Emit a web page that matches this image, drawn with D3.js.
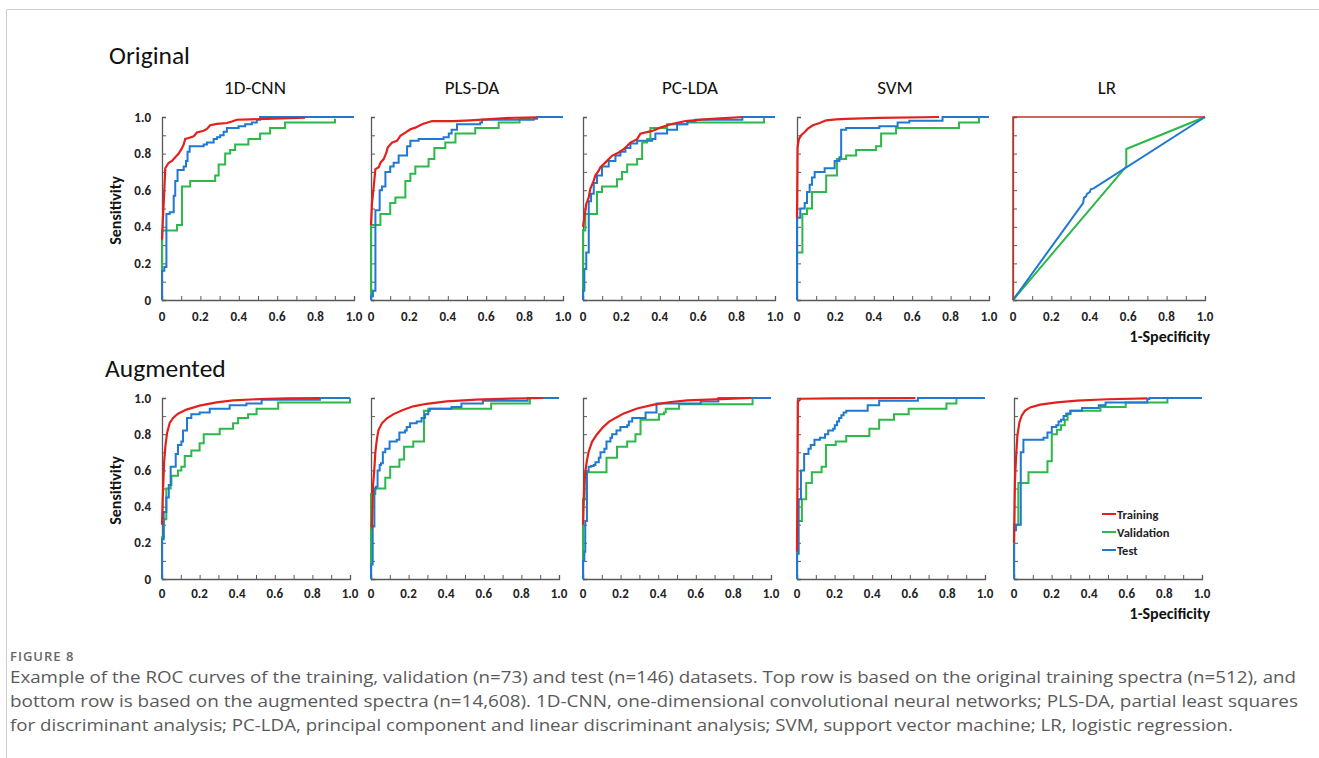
<!DOCTYPE html>
<html><head><meta charset="utf-8">
<script src="https://cdn.jsdelivr.net/npm/d3@7"></script>
<style>body{margin:0;background:#fff;}svg{display:block;}</style>
</head><body>
<svg id="chart" width="1319" height="758"></svg>
<script>
// ---------- data ----------
const methods = ["1D-CNN", "PLS-DA", "PC-LDA", "SVM", "LR"];
const rowTitles = ["Original", "Augmented"];
const seriesNames = ["Training", "Validation", "Test"];
const xTickLabels = ["0", "0.2", "0.4", "0.6", "0.8", "1.0"];
const yTickLabels = ["0", "0.2", "0.4", "0.6", "0.8", "1.0"];
const xAxisTitle = "1-Specificity";
const yAxisTitle = "Sensitivity";

// [1-specificity, sensitivity] pairs
const trainOrig = [
  [[0,0.33],[0.005,0.45],[0.009,0.53],[0.017,0.72],[0.035,0.75],[0.052,0.76],[0.069,0.78],[0.087,0.80],[0.104,0.83],[0.113,0.85],[0.121,0.88],[0.139,0.885],[0.165,0.895],[0.182,0.915],[0.217,0.925],[0.234,0.935],[0.251,0.955],[0.286,0.962],[0.338,0.967],[0.364,0.975],[0.39,0.985],[0.459,0.987],[0.546,0.99],[0.745,0.996]],
  [[0,0.41],[0.005,0.525],[0.014,0.62],[0.023,0.715],[0.04,0.725],[0.049,0.75],[0.066,0.77],[0.08,0.805],[0.087,0.833],[0.109,0.86],[0.135,0.87],[0.153,0.897],[0.179,0.915],[0.205,0.933],[0.231,0.942],[0.266,0.96],[0.318,0.978],[0.43,0.978],[0.517,0.982],[0.639,0.99],[0.743,0.996],[0.865,0.998]],
  [[0,0.40],[0.007,0.45],[0.017,0.525],[0.03,0.56],[0.038,0.607],[0.056,0.652],[0.064,0.68],[0.082,0.707],[0.09,0.725],[0.117,0.752],[0.151,0.788],[0.186,0.806],[0.212,0.824],[0.247,0.86],[0.282,0.879],[0.299,0.909],[0.36,0.924],[0.403,0.942],[0.456,0.96],[0.534,0.978],[0.63,0.987],[0.717,0.993],[0.83,1.0]],
  [[0,0.45],[0.003,0.836],[0.01,0.88],[0.022,0.90],[0.04,0.918],[0.057,0.936],[0.083,0.955],[0.118,0.967],[0.152,0.982],[0.204,0.987],[0.256,0.99],[0.429,0.995],[0.74,1.0]],
  [[0,0],[0,1],[1,1]]
];
const valOrig = [
  [[0,0],[0,0.38],[0.078,0.41],[0.104,0.62],[0.147,0.65],[0.277,0.68],[0.295,0.74],[0.329,0.80],[0.355,0.82],[0.381,0.85],[0.45,0.88],[0.511,0.91],[0.563,0.94],[0.641,0.97],[0.901,0.99]],
  [[0,0],[0,0.41],[0.049,0.47],[0.10,0.53],[0.127,0.56],[0.179,0.65],[0.205,0.69],[0.231,0.73],[0.30,0.77],[0.33,0.83],[0.387,0.86],[0.44,0.91],[0.543,0.94],[0.665,0.97],[0.774,0.99],[0.835,0.99]],
  [[0,0],[0,0.38],[0.012,0.47],[0.073,0.59],[0.099,0.62],[0.177,0.66],[0.203,0.70],[0.23,0.74],[0.282,0.77],[0.308,0.86],[0.334,0.88],[0.351,0.94],[0.438,0.96],[0.543,0.97],[0.943,1.0]],
  [[0,0],[0,0.26],[0.028,0.47],[0.052,0.50],[0.078,0.59],[0.152,0.68],[0.208,0.77],[0.256,0.79],[0.308,0.82],[0.412,0.84],[0.438,0.91],[0.516,0.94],[0.844,0.97],[0.948,1.0]],
  [[0,0],[0.59,0.73],[0.59,0.825],[1,1]]
];
const testOrig = [
  [[0,0],[0,0.16],[0.012,0.18],[0.023,0.47],[0.04,0.48],[0.061,0.57],[0.069,0.65],[0.081,0.71],[0.113,0.73],[0.125,0.76],[0.133,0.81],[0.144,0.84],[0.217,0.85],[0.234,0.86],[0.269,0.88],[0.286,0.89],[0.303,0.90],[0.321,0.92],[0.338,0.94],[0.399,0.95],[0.433,0.96],[0.468,0.97],[0.494,0.985],[0.511,1.0],[1.0,1.0]],
  [[0,0],[0,0.02],[0.01,0.05],[0.023,0.49],[0.045,0.60],[0.057,0.62],[0.075,0.70],[0.10,0.73],[0.118,0.75],[0.144,0.79],[0.188,0.84],[0.205,0.87],[0.248,0.88],[0.378,0.89],[0.405,0.91],[0.42,0.93],[0.448,0.96],[0.569,0.97],[0.578,0.985],[0.847,0.99],[0.865,1.0],[1.0,1.0]],
  [[0,0],[0,0.05],[0.007,0.17],[0.017,0.26],[0.03,0.54],[0.042,0.58],[0.056,0.64],[0.073,0.68],[0.099,0.73],[0.134,0.76],[0.169,0.79],[0.195,0.81],[0.221,0.83],[0.247,0.855],[0.282,0.87],[0.36,0.88],[0.377,0.91],[0.438,0.93],[0.49,0.96],[0.543,0.975],[0.586,0.985],[0.83,1.0],[1.0,1.0]],
  [[0,0],[0,0.45],[0.017,0.50],[0.04,0.53],[0.052,0.59],[0.066,0.63],[0.078,0.67],[0.092,0.70],[0.144,0.72],[0.196,0.76],[0.221,0.78],[0.23,0.93],[0.256,0.94],[0.429,0.95],[0.524,0.97],[0.585,0.98],[0.758,1.0],[1.0,1.0]],
  [[0,0],[0.365,0.53],[0.37,0.56],[0.38,0.565],[0.385,0.58],[0.40,0.59],[0.405,0.605],[0.42,0.61],[1,1]]
];
const trainAug = [
  [[0,0.3],[0.005,0.475],[0.011,0.64],[0.018,0.733],[0.027,0.807],[0.041,0.862],[0.059,0.89],[0.085,0.913],[0.13,0.936],[0.20,0.958],[0.29,0.976],[0.378,0.987],[0.52,0.994],[0.663,0.998],[0.84,1.0]],
  [[0,0.3],[0.005,0.29],[0.011,0.52],[0.018,0.61],[0.023,0.70],[0.032,0.777],[0.04,0.823],[0.058,0.86],[0.085,0.888],[0.12,0.911],[0.173,0.935],[0.225,0.954],[0.296,0.968],[0.401,0.981],[0.56,0.991],[0.736,0.996],[0.915,1.0]],
  [[0,0.3],[0.004,0.44],[0.007,0.517],[0.012,0.59],[0.021,0.656],[0.03,0.703],[0.048,0.758],[0.075,0.80],[0.101,0.833],[0.137,0.868],[0.173,0.89],[0.217,0.915],[0.288,0.942],[0.377,0.963],[0.466,0.978],[0.555,0.987],[0.733,0.994],[0.893,1.0]],
  [[0,0.15],[0.005,0.98],[0.02,0.996],[0.2,0.998],[0.63,1.0]],
  [[0,0.2],[0.005,0.543],[0.011,0.672],[0.018,0.792],[0.029,0.866],[0.041,0.902],[0.059,0.93],[0.086,0.948],[0.139,0.963],[0.228,0.976],[0.335,0.985],[0.496,0.993],[0.709,0.998]]
];
const valAug = [
  [[0,0],[0,0.23],[0.009,0.33],[0.023,0.50],[0.046,0.52],[0.05,0.57],[0.085,0.60],[0.103,0.62],[0.121,0.68],[0.156,0.71],[0.20,0.75],[0.222,0.80],[0.307,0.83],[0.378,0.86],[0.405,0.89],[0.458,0.91],[0.503,0.94],[0.618,0.975],[1.0,1.0]],
  [[0,0],[0,0.47],[0.023,0.50],[0.076,0.56],[0.102,0.62],[0.151,0.66],[0.176,0.73],[0.225,0.76],[0.282,0.93],[0.305,0.94],[0.639,0.97],[0.845,1.0]],
  [[0,0],[0,0.44],[0.018,0.59],[0.125,0.67],[0.181,0.73],[0.235,0.76],[0.279,0.80],[0.306,0.88],[0.404,0.91],[0.431,0.92],[0.44,0.94],[0.511,0.965],[0.902,1.0]],
  [[0,0],[0,0.32],[0.026,0.44],[0.049,0.53],[0.079,0.59],[0.131,0.62],[0.154,0.74],[0.206,0.76],[0.262,0.79],[0.385,0.83],[0.437,0.88],[0.516,0.91],[0.594,0.94],[0.795,0.97],[0.848,1.0]],
  [[0,0],[0,0.30],[0.023,0.53],[0.077,0.59],[0.178,0.65],[0.201,0.80],[0.228,0.825],[0.25,0.85],[0.27,0.88],[0.285,0.91],[0.30,0.93],[0.46,0.95],[0.594,0.975],[0.816,1.0]]
];
const testAug = [
  [[0,0],[0,0.22],[0.009,0.37],[0.023,0.45],[0.036,0.52],[0.046,0.62],[0.073,0.69],[0.085,0.74],[0.103,0.76],[0.112,0.82],[0.133,0.89],[0.156,0.91],[0.20,0.92],[0.254,0.94],[0.36,0.96],[0.449,0.97],[0.53,0.99],[0.84,1.0],[1.0,1.0]],
  [[0,0],[0,0.08],[0.009,0.29],[0.018,0.50],[0.026,0.51],[0.035,0.60],[0.046,0.63],[0.053,0.64],[0.063,0.70],[0.076,0.72],[0.099,0.76],[0.137,0.77],[0.151,0.81],[0.181,0.82],[0.19,0.84],[0.208,0.86],[0.243,0.87],[0.269,0.89],[0.287,0.91],[0.305,0.93],[0.313,0.94],[0.428,0.95],[0.481,0.97],[0.595,0.985],[0.833,1.0],[1.0,1.0]],
  [[0,0],[0,0.1],[0.007,0.15],[0.012,0.32],[0.021,0.595],[0.03,0.62],[0.043,0.625],[0.057,0.63],[0.066,0.645],[0.084,0.67],[0.093,0.70],[0.114,0.72],[0.125,0.76],[0.146,0.78],[0.155,0.80],[0.178,0.82],[0.199,0.84],[0.235,0.85],[0.244,0.87],[0.262,0.89],[0.333,0.92],[0.391,0.97],[0.626,0.98],[0.72,1.0],[1.0,1.0]],
  [[0,0],[0,0.14],[0.009,0.44],[0.021,0.60],[0.038,0.69],[0.061,0.72],[0.073,0.74],[0.093,0.77],[0.122,0.78],[0.149,0.80],[0.166,0.82],[0.192,0.83],[0.201,0.85],[0.213,0.87],[0.224,0.89],[0.236,0.905],[0.248,0.92],[0.262,0.93],[0.376,0.96],[0.437,0.985],[0.643,1.0],[1.0,1.0]],
  [[0,0],[0,0.27],[0.011,0.30],[0.036,0.70],[0.05,0.77],[0.157,0.78],[0.178,0.81],[0.201,0.84],[0.225,0.85],[0.237,0.87],[0.25,0.88],[0.264,0.90],[0.278,0.915],[0.30,0.93],[0.362,0.945],[0.451,0.96],[0.487,0.975],[0.709,0.995],[0.72,1.0],[1.0,1.0]]
];

const captionHead = "FIGURE 8";
const captionLines = [
  "Example of the ROC curves of the training, validation (n=73) and test (n=146) datasets. Top row is based on the original training spectra (n=512), and",
  "bottom row is based on the augmented spectra (n=14,608). 1D-CNN, one-dimensional convolutional neural networks; PLS-DA, partial least squares",
  "for discriminant analysis; PC-LDA, principal component and linear discriminant analysis; SVM, support vector machine; LR, logistic regression."
];

// ---------- layout ----------
const colors = {Training: "#e3211c", Validation: "#2cb84a", Test: "#1f78d1"};
const rowLayout = [
  {top: 117, bottom: 300, xs: [162, 371, 583, 797, 1013], w: 192, titleY: 64, titleX: 109, labelY: 321, specY: 342},
  {top: 398, bottom: 579, xs: [162, 371, 583, 797, 1014], w: 188, titleY: 377, titleX: 105, labelY: 598, specY: 619}
];
const methodTitleOffset = [-3, 5, 11, 2, -2];
const calibri = "Carlito, Lato, 'Open Sans', sans-serif";

const svg = d3.select("#chart");
// frame
svg.append("path").attr("d", "M6.5,758 V9.5 H1319").attr("fill", "none").attr("stroke", "#d0d0d0").attr("stroke-width", 1);

const dataRows = [[trainOrig, valOrig, testOrig], [trainAug, valAug, testAug]];

rowLayout.forEach((L, r) => {
  svg.append("text").attr("x", L.titleX).attr("y", L.titleY)
    .attr("font-family", calibri).attr("font-size", 25.5).attr("fill", "#111").text(rowTitles[r]);

  methods.forEach((m, p) => {
    const x = d3.scaleLinear().domain([0, 1]).range([L.xs[p], L.xs[p] + L.w]);
    const y = d3.scaleLinear().domain([0, 1]).range([L.bottom, L.top]);
    const g = svg.append("g");

    if (r === 0) {
      g.append("text").attr("x", L.xs[p] + L.w / 2 + methodTitleOffset[p]).attr("y", 94)
        .attr("text-anchor", "middle").attr("font-family", calibri).attr("font-size", 19)
        .attr("fill", "#111").text(m);
    }

    // axes
    const xAxis = d3.axisTop(x).tickValues(d3.range(0, 1.0001, 0.1)).tickSize(4).tickFormat("");
    const yAxis = d3.axisRight(y).tickValues(d3.range(0, 1.0001, 0.1)).tickSize(4).tickFormat("");
    const gx = g.append("g").attr("transform", `translate(0,${L.bottom})`).call(xAxis);
    const gy = g.append("g").attr("transform", `translate(${L.xs[p]},0)`).call(yAxis);
    [gx, gy].forEach(a => {
      a.select(".domain").attr("stroke", "#595959").attr("stroke-width", 1.3);
      a.selectAll(".tick line").attr("stroke", "#595959").attr("stroke-width", 1);
    });

    // x tick labels
    g.selectAll(".xl").data(xTickLabels).join("text")
      .attr("x", d => x(+d)).attr("y", L.labelY).attr("text-anchor", "middle")
      .attr("font-family", calibri).attr("font-weight", "bold").attr("font-size", 13)
      .attr("fill", "#222").text(d => d);

    if (p === 0) {
      g.selectAll(".yl").data(yTickLabels).join("text")
        .attr("x", L.xs[p] - 11).attr("y", d => y(+d) + 4.5).attr("text-anchor", "end")
        .attr("font-family", calibri).attr("font-weight", "bold").attr("font-size", 13)
        .attr("fill", "#222").text(d => d);
      const cy = (L.top + L.bottom) / 2 + 2;
      g.append("text").attr("transform", `translate(121,${cy}) rotate(-90)`)
        .attr("text-anchor", "middle").attr("font-family", calibri).attr("font-weight", "bold")
        .attr("font-size", 16).attr("fill", "#111").text(yAxisTitle);
    }
    if (p === 4) {
      g.append("text").attr("x", 1210).attr("y", L.specY).attr("text-anchor", "end")
        .attr("font-family", calibri).attr("font-weight", "bold").attr("font-size", 16)
        .attr("fill", "#111").text(xAxisTitle);
    }

    // curves
    const linear = (r === 0 && p === 4);
    const lineLin = d3.line().x(d => x(d[0])).y(d => y(d[1])).curve(d3.curveLinear);
    const lineStep = d3.line().x(d => x(d[0])).y(d => y(d[1])).curve(linear ? d3.curveLinear : d3.curveStepAfter);
    const [tr, va, te] = dataRows[r];
    g.append("path").attr("d", lineStep(va[p])).attr("fill", "none")
      .attr("stroke", colors.Validation).attr("stroke-width", 2);
    g.append("path").attr("d", lineStep(te[p])).attr("fill", "none")
      .attr("stroke", colors.Test).attr("stroke-width", 2);
    g.append("path").attr("d", lineLin(tr[p])).attr("fill", "none")
      .attr("stroke", (r === 0 && p === 4) ? "#c0302a" : colors.Training)
      .attr("stroke-width", (r === 0 && p === 4) ? 1.5 : 2.2);
  });
});

// legend
const legY = [514, 532, 550];
seriesNames.forEach((s, i) => {
  svg.append("line").attr("x1", 1102).attr("x2", 1116).attr("y1", legY[i]).attr("y2", legY[i])
    .attr("stroke", colors[s]).attr("stroke-width", 2);
  svg.append("text").attr("x", 1117).attr("y", legY[i] + 4.5).attr("font-family", calibri)
    .attr("font-weight", "bold").attr("font-size", 12.5).attr("fill", "#222").text(s);
});

// caption
svg.append("text").attr("x", 10).attr("y", 661).attr("font-family", "'Open Sans', sans-serif")
  .attr("font-size", 13).attr("font-weight", 600).attr("fill", "#666").attr("letter-spacing", 1).text(captionHead);
const capEnds = [1296, 1298, 1233];
const capY = [683, 707, 731];
captionLines.forEach((t, i) => {
  svg.append("text").attr("x", 10).attr("y", capY[i]).attr("font-family", "'Open Sans', sans-serif")
    .attr("font-size", 16.5).attr("fill", "#5a5a5a")
    .attr("textLength", capEnds[i] - 10).attr("lengthAdjust", "spacingAndGlyphs").text(t);
});
</script>
</body></html>
